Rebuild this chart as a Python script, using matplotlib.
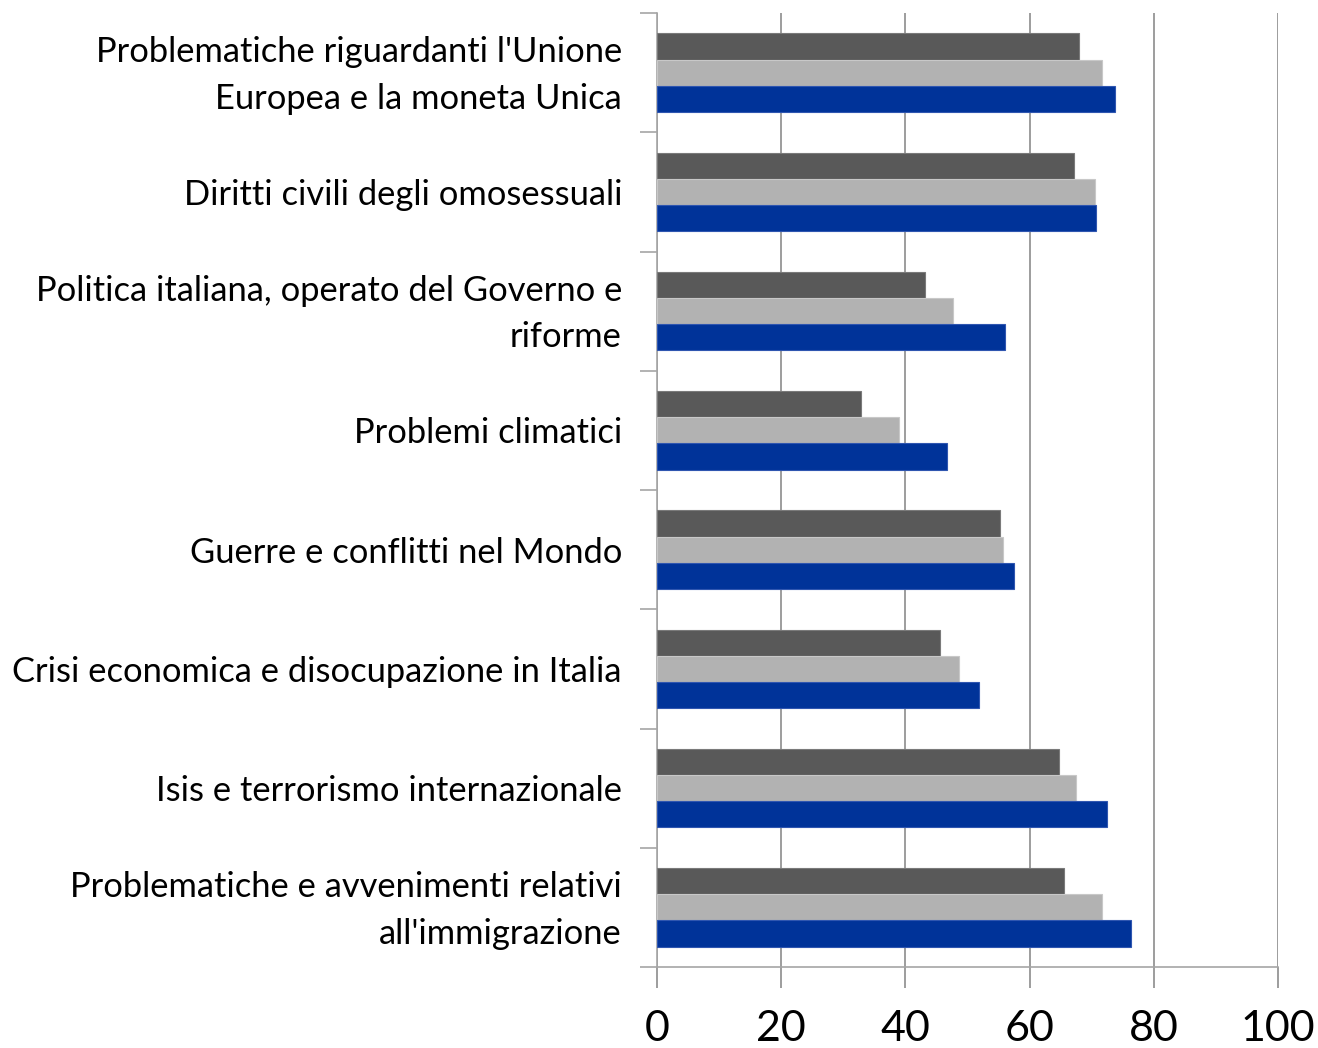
import numpy as np
import matplotlib
matplotlib.use("Agg")
import matplotlib.pyplot as plt
from matplotlib.ticker import FixedLocator
from matplotlib.transforms import offset_copy

plt.rcParams['font.family'] = ['Lato', 'DejaVu Sans']

# Topics, top to bottom
topics = [
    "Problematiche riguardanti l'Unione\nEuropea e la moneta Unica",
    "Diritti civili degli omosessuali",
    "Politica italiana, operato del Governo e\nriforme",
    "Problemi climatici",
    "Guerre e conflitti nel Mondo",
    "Crisi economica e disocupazione in Italia",
    "Isis e terrorismo internazionale",
    "Problematiche e avvenimenti relativi\nall'immigrazione",
]

# Three series per topic (%)
serie_scura = [68.0, 67.2, 43.2, 32.9, 55.3, 45.6, 64.7, 65.5]
serie_chiara = [71.7, 70.5, 47.7, 38.9, 55.7, 48.7, 67.4, 71.7]
serie_blu = [73.8, 70.7, 56.1, 46.7, 57.5, 51.8, 72.5, 76.4]

x_ticks = [0, 20, 40, 60, 80, 100]

colori = ['#595959', '#b2b2b2', '#003399']
bordi = ['#7a7a7a', '#c8c8c8', '#2f56b0']

fig = plt.figure(figsize=(13.18, 10.48), dpi=100)
ax = fig.add_axes([657 / 1318, 1 - 967 / 1048, 621 / 1318, 954 / 1048])

n = len(topics)
pos = np.arange(n)
h = 0.22
for k, (vals, c, e) in enumerate(zip([serie_scura, serie_chiara, serie_blu], colori, bordi)):
    ax.barh(pos + (k - 1) * h, vals, height=h, color=c, edgecolor=e,
            linewidth=0.8, zorder=3)

ax.set_xlim(0, 100)
ax.set_ylim(n - 0.5, -0.5)

grid_col = '#8c8c8c'
ax.set_xticks(x_ticks)
ax.set_xticklabels([str(t) for t in x_ticks], fontsize=31)
ax.tick_params(axis='x', length=15, width=1.2, color=grid_col, pad=16,
               labelcolor='black')
ax.xaxis.grid(True, color=grid_col, linewidth=1.2, zorder=0)

# category labels, right-aligned left of the axis
ax.set_yticks([])
tr = offset_copy(ax.get_yaxis_transform(), fig=fig, x=-35, y=-3, units='dots')
for i, lab in enumerate(topics):
    ax.text(0, i, lab, transform=tr, ha='right', va='center',
            fontsize=24.8, linespacing=1.55)

ax.yaxis.set_minor_locator(FixedLocator(np.arange(n + 1) - 0.5))
ax.tick_params(axis='y', which='minor', length=12, width=1.2, color='#a6a6a6')

for side in ['top', 'right']:
    ax.spines[side].set_visible(False)
for side in ['left', 'bottom']:
    ax.spines[side].set_color('#a6a6a6')
    ax.spines[side].set_linewidth(1.2)

fig.savefig('out.png', dpi=100)
